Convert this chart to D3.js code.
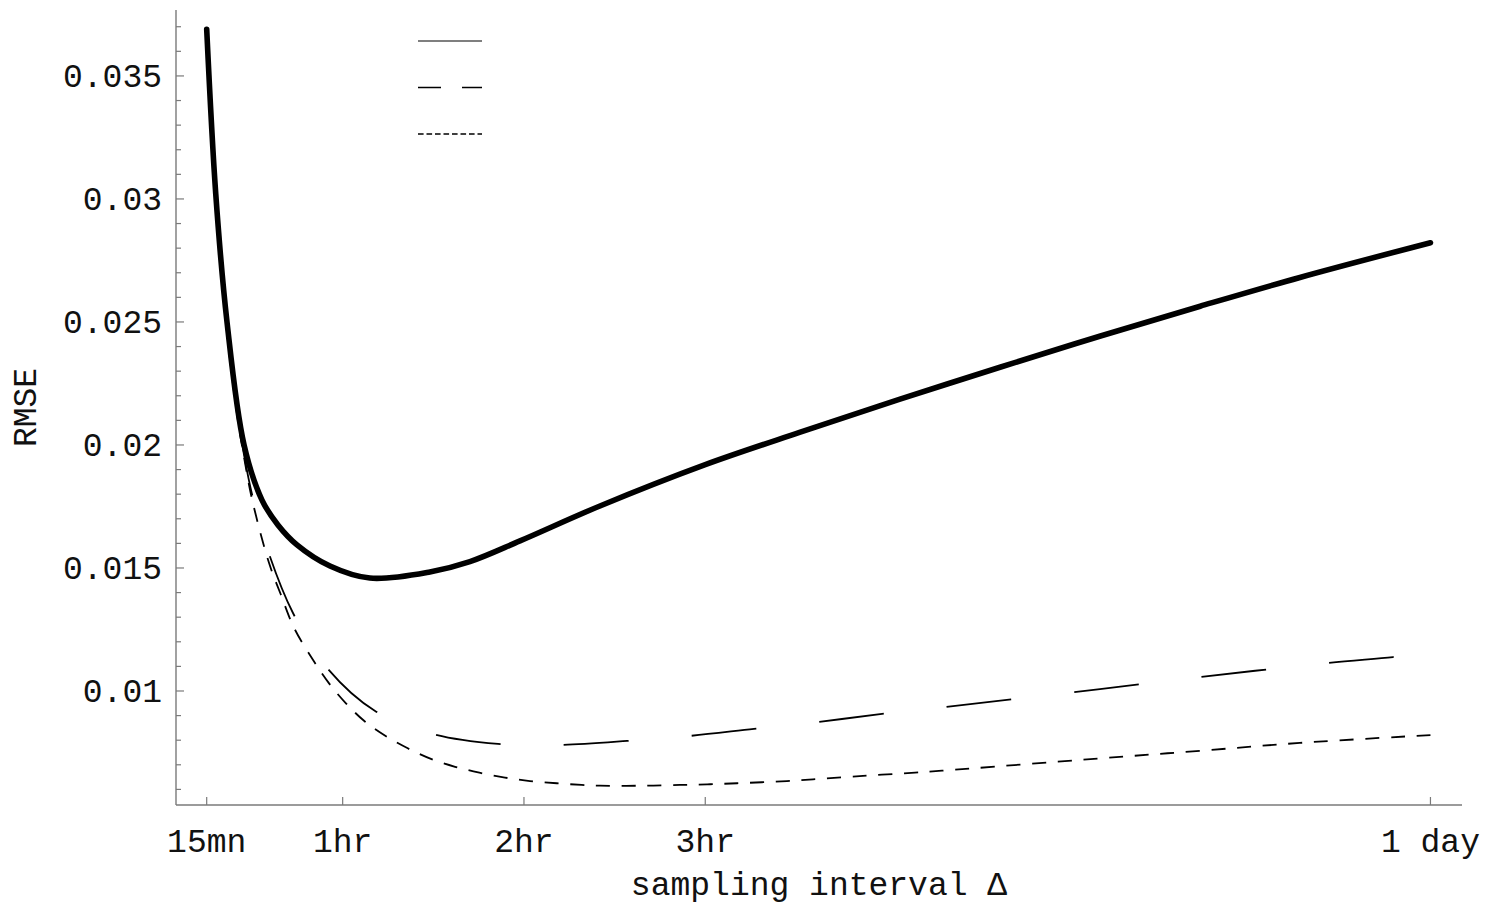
<!DOCTYPE html>
<html>
<head>
<meta charset="utf-8">
<script src="https://cdn.jsdelivr.net/npm/d3@7"></script>
<style>
  html, body { margin: 0; padding: 0; background: #fff; }
  svg text { font-family: "Liberation Mono", "Courier New", monospace; fill: #111; }
</style>
</head>
<body>
<script>
// ---- data (x in hours, y = RMSE) ----
const xTickValues = [0.25, 1, 2, 3, 7];
const xTickLabels = ["15mn", "1hr", "2hr", "3hr", "1 day"];
const yTickValues = [0.01, 0.015, 0.02, 0.025, 0.03, 0.035];
const yTickLabels = ["0.01", "0.015", "0.02", "0.025", "0.03", "0.035"];
const yMinorTicks = [0.006, 0.007, 0.008, 0.009, 0.011, 0.012, 0.013, 0.014, 0.016, 0.017, 0.018, 0.019,
  0.021, 0.022, 0.023, 0.024, 0.026, 0.027, 0.028, 0.029, 0.031, 0.032, 0.033, 0.034, 0.036, 0.037];

const totalH = [0.25, 0.30, 0.362, 0.456, 0.555, 0.643, 0.748, 0.930, 1.150, 1.481, 1.702, 1.978, 2.419, 3.0, 3.52, 4.07, 4.63, 5.18, 5.73, 6.28, 7.0];
const totalV = [0.0369, 0.0302, 0.0250, 0.0200, 0.01776, 0.01675, 0.01594, 0.01508, 0.01459, 0.01484, 0.01526, 0.01610, 0.01752, 0.01920, 0.02051, 0.02185, 0.02317, 0.02443, 0.02564, 0.02681, 0.02822];

const longH = [0.25, 0.30, 0.362, 0.42, 0.456, 0.5, 0.594, 0.726, 0.914, 1.179, 1.500, 1.857, 2.0, 2.210, 2.569, 2.910, 3.269, 3.622, 3.975, 4.322, 5.177, 5.729, 6.435, 6.793, 7.0];
const longV = [0.0368, 0.0298, 0.0246, 0.0212, 0.0196, 0.0180, 0.01557, 0.01317, 0.01094, 0.00919, 0.00825, 0.00785, 0.00782, 0.00781, 0.00797, 0.00817, 0.00846, 0.00874, 0.00907, 0.00935, 0.01008, 0.01057, 0.01114, 0.01138, 0.01155];

const shortH = [0.25, 0.30, 0.362, 0.42, 0.456, 0.5, 0.594, 0.66, 0.733, 0.843, 0.925, 1.018, 1.118, 1.235, 1.359, 1.487, 1.620, 1.754, 1.895, 2.033, 2.181, 2.318, 2.419, 2.64, 2.86, 3.027, 3.176, 3.45, 3.594, 3.87, 4.157, 4.306, 5.178, 5.729, 6.28, 7.0];
const shortV = [0.0368, 0.0298, 0.0246, 0.0211, 0.0195, 0.0178, 0.0152, 0.0139, 0.01255, 0.01119, 0.01031, 0.00950, 0.00879, 0.00818, 0.00767, 0.00724, 0.00692, 0.00668, 0.00648, 0.00634, 0.00625, 0.00618, 0.00615, 0.00615, 0.00618, 0.00621, 0.00625, 0.00634, 0.00641, 0.00655, 0.00668, 0.00676, 0.00726, 0.00757, 0.00789, 0.00821];

// ---- layout ----
const W = 1495, H = 908;
const svg = d3.select("body").append("svg").attr("width", W).attr("height", H);

const x = d3.scaleLinear().domain([0.0807, 7.174]).range([176, 1462]);
const y = d3.scaleLinear().domain([0.005366, 0.03768]).range([805, 10]);

const axisColor = "#7a7a7a";

// axes lines
svg.append("line").attr("x1", x.range()[0]).attr("x2", x.range()[1])
  .attr("y1", y.range()[0]).attr("y2", y.range()[0])
  .attr("stroke", axisColor).attr("stroke-width", 1.4);
svg.append("line").attr("x1", x.range()[0]).attr("x2", x.range()[0])
  .attr("y1", y.range()[0]).attr("y2", y.range()[1])
  .attr("stroke", axisColor).attr("stroke-width", 1.4);

// y ticks
const gy = svg.append("g");
gy.selectAll("line.maj").data(yTickValues).enter().append("line")
  .attr("x1", 176).attr("x2", 184).attr("y1", d => y(d)).attr("y2", d => y(d))
  .attr("stroke", axisColor).attr("stroke-width", 1.2);
gy.selectAll("line.min").data(yMinorTicks).enter().append("line")
  .attr("x1", 176).attr("x2", 181).attr("y1", d => y(d)).attr("y2", d => y(d))
  .attr("stroke", axisColor).attr("stroke-width", 1.2);
gy.selectAll("text").data(yTickValues).enter().append("text")
  .attr("x", 162).attr("y", d => y(d)).attr("dy", "0.33em")
  .attr("text-anchor", "end").attr("font-size", 33)
  .text((d, i) => yTickLabels[i]);

// x ticks
const gx = svg.append("g");
gx.selectAll("line").data(xTickValues).enter().append("line")
  .attr("x1", d => x(d)).attr("x2", d => x(d)).attr("y1", 805).attr("y2", 797)
  .attr("stroke", axisColor).attr("stroke-width", 1.2);
gx.selectAll("text").data(xTickValues).enter().append("text")
  .attr("x", d => x(d)).attr("y", 852).attr("text-anchor", "middle").attr("font-size", 33)
  .text((d, i) => xTickLabels[i]);

// axis titles
svg.append("text").attr("x", 819).attr("y", 895).attr("text-anchor", "middle")
  .attr("font-size", 33).text("sampling interval \u0394");
svg.append("text").attr("transform", "translate(36,407.5) rotate(-90)")
  .attr("text-anchor", "middle").attr("font-size", 33).text("RMSE");

// curves
const line = d3.line().x(d => x(d[0])).y(d => y(d[1])).curve(d3.curveCatmullRom.alpha(0.5));

const pShort = svg.append("path").datum(d3.zip(shortH, shortV)).attr("d", line)
  .attr("fill", "none").attr("stroke", "#000").attr("stroke-width", 1.8)
  .attr("stroke-dasharray", "14,11.7");
const pLong = svg.append("path").datum(d3.zip(longH, longV)).attr("d", line)
  .attr("fill", "none").attr("stroke", "#000").attr("stroke-width", 1.8)
  .attr("stroke-dasharray", "65,63.3");
svg.append("path").datum(d3.zip(totalH, totalV)).attr("d", line)
  .attr("fill", "none").attr("stroke", "#000").attr("stroke-width", 5.6)
  .attr("stroke-linecap", "round").attr("stroke-linejoin", "round");

// dash phases: long dash ends ~37px before curve end; short dash ends at curve end
{
  const L = pLong.node().getTotalLength();
  const per = 128.3;
  const off = ((65 + 37 - L) % per + per) % per;
  pLong.attr("stroke-dashoffset", off);
  const Ls = pShort.node().getTotalLength();
  const pers = 25.7;
  const offs = ((14 - Ls) % pers + pers) % pers;
  pShort.attr("stroke-dashoffset", offs);
}

// legend samples (labels absent in original)
const legend = svg.append("g");
const legendStyles = [null, "23,21", "5.6,2.9"];
legendStyles.forEach((dash, i) => {
  const l = legend.append("line").attr("x1", 418).attr("x2", 482)
    .attr("y1", 41 + i * 46.5).attr("y2", 41 + i * 46.5)
    .attr("stroke", i === 0 ? "#555" : "#000").attr("stroke-width", i === 0 ? 1.3 : 1.6);
  if (dash) l.attr("stroke-dasharray", dash);
});
</script>
</body>
</html>
